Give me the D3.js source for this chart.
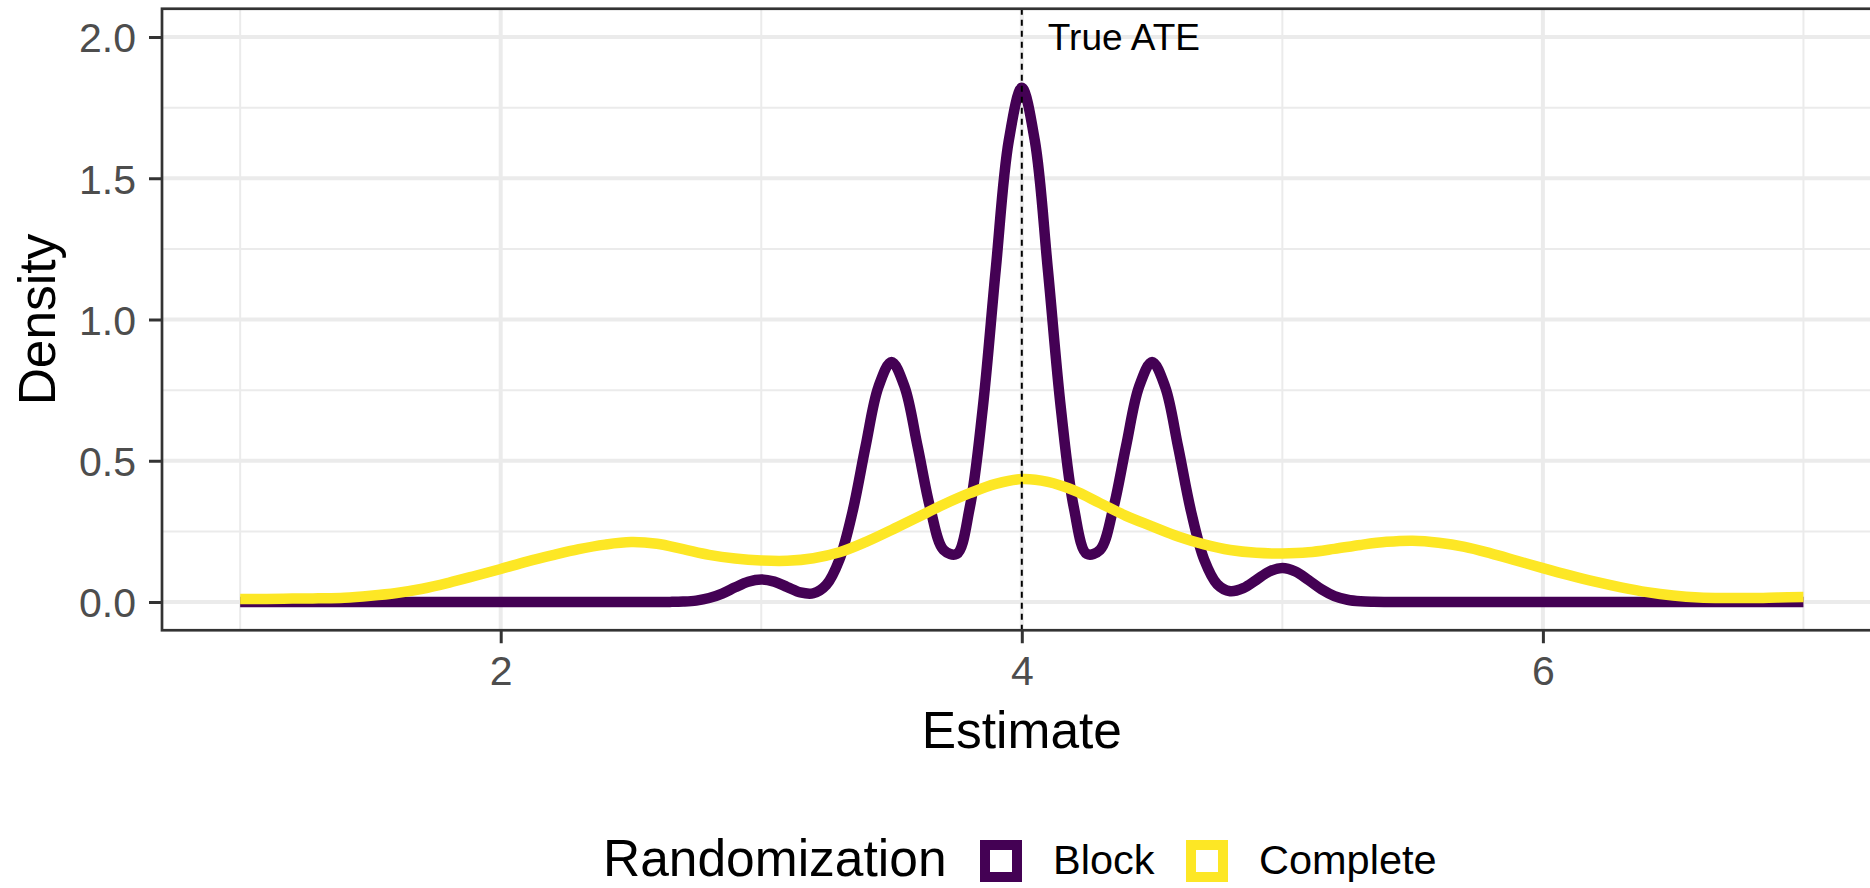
<!DOCTYPE html>
<html>
<head>
<meta charset="utf-8">
<script src="https://cdn.jsdelivr.net/npm/d3@7"></script>
<style>
  body { margin: 0; background: #fff; }
  text { font-family: "Liberation Sans", Arial, sans-serif; }
</style>
</head>
<body>
<script>
// data
var seriesNames = ["Block", "Complete"];
var seriesColors = ["#440154", "#FDE725"];

var blockX = [1.0, 1.5, 2.0, 2.5, 2.6, 2.65, 2.7, 2.75, 2.8, 2.85, 2.9, 2.95, 3.0, 3.05, 3.1, 3.15, 3.2, 3.25,
  3.3, 3.35, 3.4, 3.45, 3.5, 3.55, 3.6, 3.65, 3.7, 3.75, 3.8, 3.85, 3.9, 3.95, 4.0, 4.05, 4.1, 4.15, 4.2,
  4.25, 4.3, 4.35, 4.4, 4.45, 4.5, 4.55, 4.6, 4.65, 4.7, 4.75, 4.8, 4.85, 4.9, 4.95, 5.0, 5.05, 5.1, 5.15,
  5.2, 5.25, 5.3, 5.35, 5.4, 5.5, 6.0, 6.5, 7.0];
var blockY = [0, 0, 0, 0, 0, 0.0004, 0.0016, 0.005, 0.014, 0.030, 0.052, 0.072, 0.080, 0.072, 0.053, 0.034, 0.031, 0.061,
  0.150, 0.318, 0.549, 0.762, 0.850, 0.762, 0.551, 0.327, 0.184, 0.170, 0.333, 0.685, 1.177, 1.633, 1.820, 1.633, 1.177, 0.685, 0.333,
  0.170, 0.184, 0.327, 0.551, 0.762, 0.850, 0.762, 0.549, 0.319, 0.150, 0.063, 0.038, 0.049, 0.078, 0.108, 0.120, 0.108, 0.078, 0.045,
  0.021, 0.008, 0.0024, 0.0006, 0.0001, 0, 0, 0, 0];

var completeX = [1.0, 1.1, 1.2, 1.3, 1.4, 1.5, 1.6, 1.7, 1.8, 1.9, 2.0, 2.1, 2.2, 2.3, 2.4, 2.5, 2.6, 2.7, 2.8, 2.9,
  3.0, 3.1, 3.2, 3.3, 3.4, 3.5, 3.6, 3.7, 3.8, 3.9, 4.0, 4.1, 4.2, 4.3, 4.4, 4.5, 4.6, 4.7, 4.8, 4.9,
  5.0, 5.1, 5.2, 5.3, 5.4, 5.5, 5.6, 5.7, 5.8, 5.9, 6.0, 6.1, 6.2, 6.3, 6.4, 6.5, 6.6, 6.7, 6.8, 6.9, 7.0];
var completeY = [0.011, 0.011, 0.012, 0.013, 0.015, 0.022, 0.032, 0.047, 0.068, 0.092, 0.117, 0.143, 0.166, 0.187, 0.203, 0.212, 0.206, 0.187, 0.167, 0.154,
  0.147, 0.146, 0.155, 0.176, 0.212, 0.255, 0.300, 0.345, 0.385, 0.418, 0.435, 0.425, 0.395, 0.350, 0.305, 0.268, 0.232, 0.204, 0.184, 0.174,
  0.172, 0.176, 0.188, 0.202, 0.213, 0.217, 0.210, 0.195, 0.172, 0.146, 0.120, 0.095, 0.072, 0.052, 0.035, 0.023, 0.016, 0.014, 0.014, 0.016, 0.018];

var trueATE = 4;
var xTicks = [2, 4, 6];
var xMinor = [1, 3, 5, 7];
var yTicks = [0, 0.5, 1, 1.5, 2];
var yMinor = [0.25, 0.75, 1.25, 1.75];

var w = 1870;
var h = 888;
var panel = {left: 162, top: 8.75, right: 1881.6, bottom: 630.25};

var svg = d3.select("body")
  .append("svg")
  .attr("width", w)
  .attr("height", h);

var x = d3.scaleLinear().domain([0.7, 7.3]).range([panel.left, panel.right]);
var y = d3.scaleLinear().domain([-0.1, 2.1]).range([panel.bottom, panel.top]);

svg.append("clipPath").attr("id", "clip")
  .append("rect")
  .attr("x", panel.left).attr("y", panel.top)
  .attr("width", panel.right - panel.left).attr("height", panel.bottom - panel.top);

var g = svg.append("g").attr("clip-path", "url(#clip)");

// grid: minor first, then major
g.selectAll(".xminor").data(xMinor).enter().append("line")
  .attr("x1", function(d){ return x(d); }).attr("x2", function(d){ return x(d); })
  .attr("y1", panel.top).attr("y2", panel.bottom)
  .attr("stroke", "#EBEBEB").attr("stroke-width", 2);
g.selectAll(".yminor").data(yMinor).enter().append("line")
  .attr("y1", function(d){ return y(d); }).attr("y2", function(d){ return y(d); })
  .attr("x1", panel.left).attr("x2", panel.right)
  .attr("stroke", "#EBEBEB").attr("stroke-width", 2);
g.selectAll(".xmajor").data(xTicks).enter().append("line")
  .attr("x1", function(d){ return x(d); }).attr("x2", function(d){ return x(d); })
  .attr("y1", panel.top).attr("y2", panel.bottom)
  .attr("stroke", "#EBEBEB").attr("stroke-width", 4);
g.selectAll(".ymajor").data(yTicks).enter().append("line")
  .attr("y1", function(d){ return y(d); }).attr("y2", function(d){ return y(d); })
  .attr("x1", panel.left).attr("x2", panel.right)
  .attr("stroke", "#EBEBEB").attr("stroke-width", 4);

// density curves
var series = [d3.zip(blockX, blockY), d3.zip(completeX, completeY)];
var line = d3.line()
  .x(function(d){ return x(d[0]); })
  .y(function(d){ return y(d[1]); })
  .curve(d3.curveCatmullRom.alpha(0.5));

g.selectAll(".curve").data(series).enter().append("path")
  .attr("d", line)
  .attr("fill", "none")
  .attr("stroke", function(d, i){ return seriesColors[i]; })
  .attr("stroke-width", 10.5)
  .attr("stroke-linejoin", "round");

// true ATE line + label
g.append("line")
  .attr("x1", x(trueATE)).attr("x2", x(trueATE))
  .attr("y1", panel.top).attr("y2", panel.bottom)
  .attr("stroke", "#000").attr("stroke-width", 2)
  .attr("stroke-dasharray", "6,5");
g.append("text")
  .attr("x", x(4.1)).attr("y", y(2.0))
  .attr("dy", "0.36em")
  .attr("font-size", "37px")
  .attr("fill", "#000")
  .text("True ATE");

// panel border
svg.append("rect")
  .attr("x", panel.left).attr("y", panel.top)
  .attr("width", panel.right - panel.left).attr("height", panel.bottom - panel.top)
  .attr("fill", "none").attr("stroke", "#333333").attr("stroke-width", 2.7);

// axes
var xAxis = svg.append("g")
  .attr("transform", "translate(0," + panel.bottom + ")")
  .call(d3.axisBottom(x).tickValues(xTicks).tickSize(13).tickPadding(13).tickFormat(d3.format("d")));
var yAxis = svg.append("g")
  .attr("transform", "translate(" + panel.left + ",0)")
  .call(d3.axisLeft(y).tickValues(yTicks).tickSize(13).tickPadding(13).tickFormat(d3.format(".1f")));

[xAxis, yAxis].forEach(function(a){
  a.select(".domain").remove();
  a.selectAll(".tick line").attr("stroke", "#333333").attr("stroke-width", 3);
  a.selectAll(".tick text")
    .attr("fill", "#4D4D4D")
    .style("font-size", "41px")
    .style("font-family", "'Liberation Sans', Arial, sans-serif");
});
xAxis.selectAll(".tick text").attr("dy", null).attr("y", 55);
yAxis.selectAll(".tick text").attr("dy", "0.36em");

// axis titles
svg.append("text")
  .attr("x", (panel.left + panel.right) / 2).attr("y", 748)
  .attr("text-anchor", "middle")
  .attr("font-size", "51.5px")
  .text("Estimate");
svg.append("text")
  .attr("transform", "translate(55," + (panel.top + panel.bottom) / 2 + ") rotate(-90)")
  .attr("text-anchor", "middle")
  .attr("font-size", "51.5px")
  .text("Density");

// legend
var legend = svg.append("g");
legend.append("text")
  .attr("x", 603).attr("y", 876)
  .attr("font-size", "51.5px")
  .text("Randomization");

var keyX = [985, 1191];
var labelX = [1053, 1259];
legend.selectAll(".key").data(seriesNames).enter().append("rect")
  .attr("x", function(d, i){ return keyX[i]; })
  .attr("y", 845)
  .attr("width", 32).attr("height", 32)
  .attr("fill", "none")
  .attr("stroke", function(d, i){ return seriesColors[i]; })
  .attr("stroke-width", 10);
legend.selectAll(".lab").data(seriesNames).enter().append("text")
  .attr("x", function(d, i){ return labelX[i]; })
  .attr("y", 874)
  .attr("font-size", "41.5px")
  .text(function(d){ return d; });
</script>
</body>
</html>
